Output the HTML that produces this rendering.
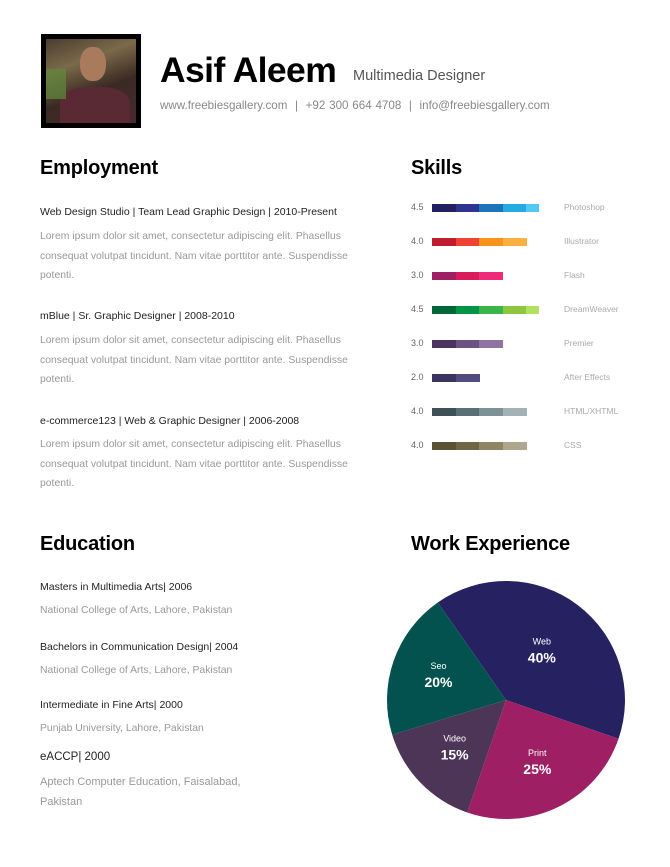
<!DOCTYPE html>
<html><head><meta charset="utf-8">
<style>
*{margin:0;padding:0;box-sizing:border-box}
body{width:670px;height:867px;background:#fff;font-family:"Liberation Sans",sans-serif;position:relative;overflow:hidden}
.a{position:absolute;white-space:nowrap}
h2{position:absolute;font-size:20px;font-weight:bold;color:#000;letter-spacing:-0.2px}
.t{position:absolute;font-size:10.5px;color:#222;white-space:nowrap}
.p{position:absolute;font-size:10.4px;color:#999;line-height:19.5px;width:310px}
.e{position:absolute;font-size:10.4px;color:#999;line-height:19.5px}
</style></head><body>
<div class="a" style="left:41px;top:34px;width:100px;height:94px;background:#000;padding:5px">
<div style="width:100%;height:100%;background:linear-gradient(160deg,#4a3d30 0%,#7a6a4a 30%,#3a2a22 60%,#4a2a30 100%);position:relative;overflow:hidden">
<div style="position:absolute;left:34px;top:8px;width:26px;height:34px;border-radius:45%;background:#a97a5c"></div>
<div style="position:absolute;left:14px;top:48px;width:70px;height:40px;border-radius:40% 40% 0 0;background:#5a2a34"></div>
<div style="position:absolute;left:0;top:30px;width:20px;height:30px;background:#5f8a3a;opacity:.7"></div>
</div></div>
<div class="a" style="left:160px;top:50px;font-size:35.5px;font-weight:bold;letter-spacing:-0.6px">Asif Aleem</div>
<div class="a" style="left:353px;top:68px;font-size:14.5px;color:#555">Multimedia Designer</div>
<div class="a" style="left:160px;top:99px;font-size:11.6px;color:#888;word-spacing:0.6px">www.freebiesgallery.com &nbsp;|&nbsp; +92 300 664 4708 &nbsp;|&nbsp; info@freebiesgallery.com</div>

<h2 style="left:40px;top:157px">Employment</h2>
<div class="t" style="left:40px;top:206px">Web Design Studio | Team Lead Graphic Design | 2010-Present</div>
<div class="p" style="left:40px;top:227px">Lorem ipsum dolor sit amet, consectetur adipiscing elit. Phasellus consequat volutpat tincidunt. Nam vitae porttitor ante. Suspendisse potenti.</div>
<div class="t" style="left:40px;top:310px">mBlue | Sr. Graphic Designer | 2008-2010</div>
<div class="p" style="left:40px;top:331px">Lorem ipsum dolor sit amet, consectetur adipiscing elit. Phasellus consequat volutpat tincidunt. Nam vitae porttitor ante. Suspendisse potenti.</div>
<div class="t" style="left:40px;top:415px">e-commerce123 | Web &amp; Graphic Designer | 2006-2008</div>
<div class="p" style="left:40px;top:435px">Lorem ipsum dolor sit amet, consectetur adipiscing elit. Phasellus consequat volutpat tincidunt. Nam vitae porttitor ante. Suspendisse potenti.</div>

<h2 style="left:411px;top:157px">Skills</h2>
<div id="skills"></div>

<h2 style="left:40px;top:533px">Education</h2>
<div class="t" style="left:40px;top:581px">Masters in Multimedia Arts| 2006</div>
<div class="e" style="left:40px;top:601px">National College of Arts, Lahore, Pakistan</div>
<div class="t" style="left:40px;top:641px">Bachelors in Communication Design| 2004</div>
<div class="e" style="left:40px;top:661px">National College of Arts, Lahore, Pakistan</div>
<div class="t" style="left:40px;top:699px">Intermediate in Fine Arts| 2000</div>
<div class="e" style="left:40px;top:719px">Punjab University, Lahore, Pakistan</div>
<div class="t" style="left:40px;top:751px;font-size:11.5px">eACCP| 2000</div>
<div class="e" style="left:40px;top:773px;width:230px;font-size:11px">Aptech Computer Education, Faisalabad, Pakistan</div>

<h2 style="left:411px;top:533px">Work Experience</h2>
<svg id="pie" class="a" style="left:0;top:0" width="670" height="867"></svg>

<script>
const skillNames=["Photoshop","Illustrator","Flash","DreamWeaver","Premier","After Effects","HTML/XHTML","CSS"];
const skillScores=[4.5,4.0,3.0,4.5,3.0,2.0,4.0,4.0];
const skillColors=[["#25215e","#2d3590","#1c75bc","#27aae1","#54c8f0"],["#be1e2d","#ef4136","#f7941d","#fbb040"],["#9e1f63","#d91b5c","#ee2a7b"],["#006838","#009444","#39b54a","#8dc63f","#b2e05f"],["#4b3560","#6d5383","#9073a3"],["#3a3460","#524c80"],["#3f5156","#5a6f76","#7e9197","#a3b2b7"],["#5b5334","#6f6646","#8e8563","#afa78d"]];
const pieLabels=["Web","Print","Video","Seo"];
const pieValues=[40,25,15,20];
const pieColors=["#262262","#9e1f63","#4d3558","#03524f"];

const sk=document.getElementById('skills');
const x0=432,unit=23.6,y0=208,dy=34;
skillScores.forEach((s,i)=>{
  const y=y0+i*dy;
  const lab=document.createElement('div');
  lab.className='a';lab.style.cssText=`left:411px;top:${y-6}px;font-size:9px;color:#666`;
  lab.textContent=s.toFixed(1);
  
  
  sk.appendChild(lab);
  const n=Math.ceil(s);
  for(let k=0;k<n;k++){
    const w=Math.min(1,s-k)*unit;
    const b=document.createElement('div');
    b.className='a';b.style.cssText=`left:${x0+k*unit}px;top:${y-4}px;width:${w+0.5}px;height:8px;background:${skillColors[i][k]}`;
    
    
    sk.appendChild(b);
  }
  const nm=document.createElement('div');
  nm.className='a';nm.style.cssText=`left:564px;top:${y-6}px;font-size:8.5px;color:#aaa`;
  nm.textContent=skillNames[i];
  
  
  sk.appendChild(nm);
});

const svg=document.getElementById('pie');
const cx=506,cy=700,r=119,NS='http://www.w3.org/2000/svg';
const total=pieValues.reduce((a,b)=>a+b,0);
let ang=-125*Math.PI/180;
pieValues.forEach((v,i)=>{
  const a1=ang+v/total*2*Math.PI;
  const p=document.createElementNS(NS,'path');
  const large=(a1-ang)>Math.PI?1:0;
  p.setAttribute('d',`M${cx},${cy}L${cx+r*Math.cos(ang)},${cy+r*Math.sin(ang)}A${r},${r} 0 ${large} 1 ${cx+r*Math.cos(a1)},${cy+r*Math.sin(a1)}Z`);
  p.setAttribute('fill',pieColors[i]);
  
  
  svg.appendChild(p);
  const m=(ang+a1)/2, lr=r*(i===0?0.5:0.6);
  const tx=cx+lr*Math.cos(m), ty=cy+lr*Math.sin(m);
  const t1=document.createElementNS(NS,'text');
  t1.setAttribute('x',tx);t1.setAttribute('y',ty-8);t1.setAttribute('fill','#fff');
  t1.setAttribute('font-size','9');t1.setAttribute('text-anchor','middle');
  t1.setAttribute('font-family','Liberation Sans, sans-serif');
  t1.textContent=pieLabels[i];
  
  
  svg.appendChild(t1);
  const t2=document.createElementNS(NS,'text');
  t2.setAttribute('x',tx);t2.setAttribute('y',ty+10);t2.setAttribute('fill','#fff');
  t2.setAttribute('font-size','14');t2.setAttribute('font-weight','bold');t2.setAttribute('text-anchor','middle');
  t2.setAttribute('font-family','Liberation Sans, sans-serif');
  t2.textContent=v+'%';
  
  
  svg.appendChild(t2);
  ang=a1;
});
</script>
</body></html>
